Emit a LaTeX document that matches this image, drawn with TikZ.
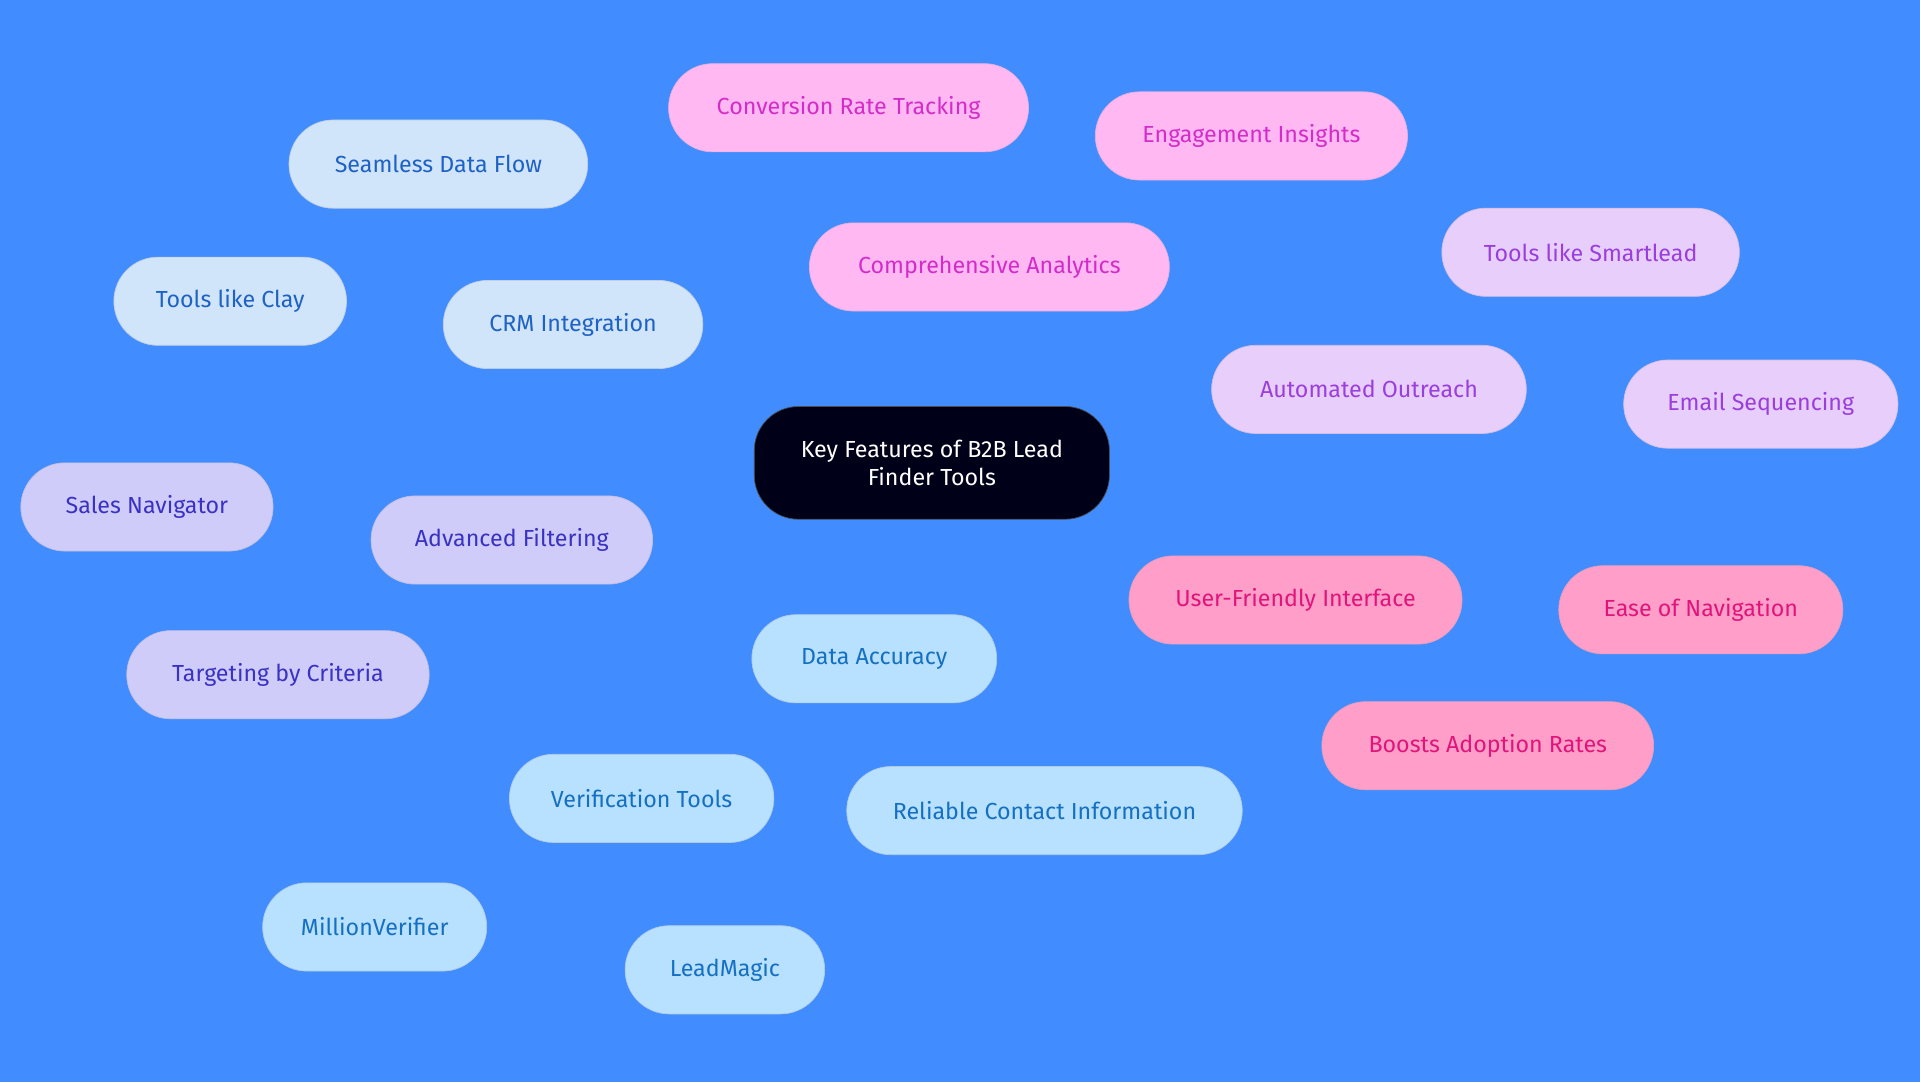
\documentclass[tikz,border=0pt]{standalone}
\usepackage{fontspec}
\setmainfont{Fira Sans}
\usetikzlibrary{backgrounds}
\definecolor{bg}{HTML}{418CFF}
\definecolor{crmF}{HTML}{D0E4FA}\definecolor{crmT}{HTML}{1E62C4}
\definecolor{anaF}{HTML}{FFB8F2}\definecolor{anaT}{HTML}{D42CC8}
\definecolor{outF}{HTML}{E8CEFA}\definecolor{outT}{HTML}{9A3EDC}
\definecolor{filF}{HTML}{D0CCFA}\definecolor{filT}{HTML}{3A32C2}
\definecolor{uiF}{HTML}{FF9EC8}\definecolor{uiT}{HTML}{E0147A}
\definecolor{accF}{HTML}{B8E0FF}\definecolor{accT}{HTML}{1570C2}
\begin{document}
\begin{tikzpicture}[x=0.025cm,y=-0.025cm,
  leaf/.style n args={3}{rounded corners=0.9cm, minimum height=1.8cm, minimum width={#1*0.025cm},
    fill=#2, draw=#2!85!black!80!white, text=#3, font=\fontsize{13.5}{16}\selectfont},
  link/.style={line width=1.3pt, draw=#1}]
\useasboundingbox[fill=bg] (0,0) rectangle (1568,884);
\node[rounded corners=0.9cm, minimum height=2.3cm, minimum width={290*0.025cm}, fill=black!90!blue, draw=gray!60!black,
  text=white, align=center, font=\fontsize{13.5}{16}\selectfont] (key) at (761,378) {Key Features of B2B Lead\\Finder Tools};
% CRM branch
\node[leaf={212}{crmF}{crmT}] (crm) at (468,265) {CRM Integration};
\node[leaf={244}{crmF}{crmT}] (flow) at (358,134) {Seamless Data Flow};
\node[leaf={190}{crmF}{crmT}] (clay) at (188,246) {Tools like Clay};
% analytics branch
\node[leaf={294}{anaF}{anaT}] (ana) at (808,218) {Comprehensive Analytics};
\node[leaf={294}{anaF}{anaT}] (conv) at (693,88) {Conversion Rate Tracking};
\node[leaf={255}{anaF}{anaT}] (eng) at (1022,111) {Engagement Insights};
% outreach branch
\node[leaf={257}{outF}{outT}] (out) at (1118,318) {Automated Outreach};
\node[leaf={243}{outF}{outT}] (smart) at (1299,206) {Tools like Smartlead};
\node[leaf={224}{outF}{outT}] (seq) at (1438,330) {Email Sequencing};
% interface branch
\node[leaf={272}{uiF}{uiT}] (ui) at (1058,490) {User-Friendly Interface};
\node[leaf={232}{uiF}{uiT}] (nav) at (1389,498) {Ease of Navigation};
\node[leaf={271}{uiF}{uiT}] (adopt) at (1215,609) {Boosts Adoption Rates};
% accuracy branch
\node[leaf={200}{accF}{accT}] (acc) at (714,538) {Data Accuracy};
\node[leaf={216}{accF}{accT}] (ver) at (524,652) {Verification Tools};
\node[leaf={323}{accF}{accT}] (rel) at (853,662) {Reliable Contact Information};
\node[leaf={183}{accF}{accT}] (mv) at (306,757) {MillionVerifier};
\node[leaf={163}{accF}{accT}] (lm) at (592,792) {LeadMagic};
% filtering branch
\node[leaf={230}{filF}{filT}] (fil) at (418,441) {Advanced Filtering};
\node[leaf={206}{filF}{filT}] (sales) at (120,414) {Sales Navigator};
\node[leaf={247}{filF}{filT}] (crit) at (227,551) {Targeting by Criteria};
\begin{scope}[on background layer]
  \path[link=crmF!80!bg] (key) -- (crm) (crm) -- (flow) (crm) -- (clay);
  \path[link=anaF!85!bg] (key) -- (ana) (ana) -- (conv) (ana) -- (eng);
  \path[link=outF!85!bg] (key) -- (out) (out) -- (smart) (out) -- (seq);
  \path[link=uiF!85!bg] (key) -- (ui) (ui) -- (nav) (ui) -- (adopt);
  \path[link=accF!80!bg] (key) -- (acc) (acc) -- (ver) (acc) -- (rel) (ver) -- (mv) (ver) -- (lm);
  \path[link=filF!80!bg] (key) -- (fil) (fil) -- (sales) (fil) -- (crit);
\end{scope}
\end{tikzpicture}
\end{document}
